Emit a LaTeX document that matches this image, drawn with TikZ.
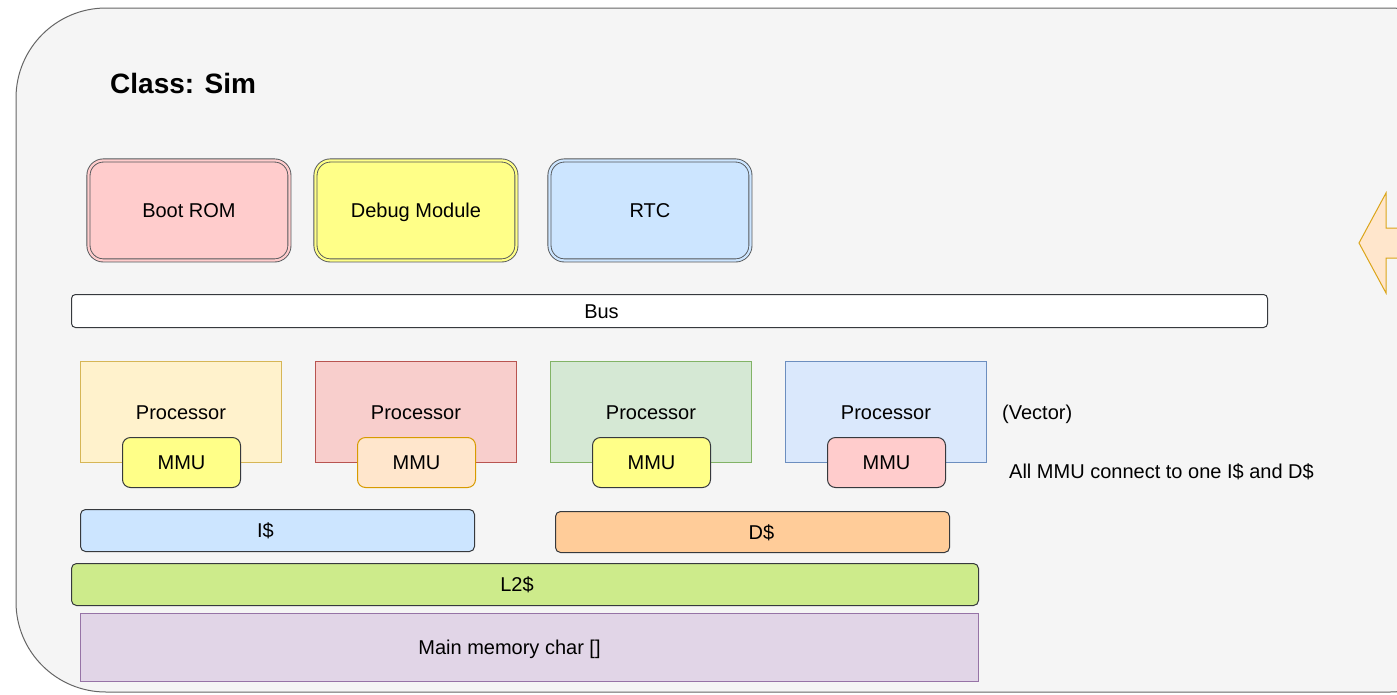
\documentclass[tikz,border=0pt]{standalone}
\usepackage{fontspec}
\setmainfont{Liberation Sans}
\definecolor{contfill}{HTML}{F5F5F5}
\definecolor{contdraw}{HTML}{666666}
\definecolor{dk}{HTML}{36393D}
\definecolor{pinkf}{HTML}{FFCCCC}
\definecolor{yelf}{HTML}{FFFF88}
\definecolor{bluef}{HTML}{CCE5FF}
\definecolor{p1f}{HTML}{FFF2CC}\definecolor{p1d}{HTML}{D6B656}
\definecolor{p2f}{HTML}{F8CECC}\definecolor{p2d}{HTML}{B85450}
\definecolor{p3f}{HTML}{D5E8D4}\definecolor{p3d}{HTML}{82B366}
\definecolor{p4f}{HTML}{DAE8FC}\definecolor{p4d}{HTML}{6C8EBF}
\definecolor{orf}{HTML}{FFE6CC}\definecolor{ord}{HTML}{D79B00}
\definecolor{dcf}{HTML}{FFCC99}
\definecolor{l2f}{HTML}{CDEB8B}
\definecolor{memf}{HTML}{E1D5E7}\definecolor{memd}{HTML}{9673A6}
\tikzset{
  base/.style={anchor=north west, inner sep=0pt, font=\fontsize{20}{24}\selectfont, text=black, text height=14pt, text depth=0pt},
  dblbox/.style={base, rounded corners=15pt, draw=dk!85, line width=0.9pt, double distance=2.2pt, minimum width=201pt, minimum height=100pt},
  procbox/.style={base, draw, line width=1pt, minimum width=201pt, minimum height=101pt},
  mmubox/.style={base, rounded corners=8pt, line width=1pt, minimum width=118pt, minimum height=50pt},
  barbox/.style={base, rounded corners=5pt, draw=dk, line width=1pt},
  plain/.style={inner sep=0pt, font=\fontsize{20}{24}\selectfont, text=black, text height=14pt, text depth=0pt},
}
\begin{document}
\begin{tikzpicture}[x=1pt,y=-1pt]
\useasboundingbox (0,0) rectangle (1397,694);
\clip (0,0) rectangle (1397,694);
\fill[white] (0,0) rectangle (1397,694);
% container
\draw[fill=contfill, draw=contdraw, line width=1pt, rounded corners=90pt] (16,8) rectangle (1480,692);
% title
\node[plain, anchor=west, font=\fontsize{28}{32}\selectfont\bfseries, text height=20pt, text depth=0pt] (title) at (110,83) {Class: Sim};
% top modules
\node[dblbox, fill=pinkf, double=pinkf] (boot) at (88,160) {Boot ROM};
\node[dblbox, fill=yelf, double=yelf] (debug) at (315,160) {Debug Module};
\node[dblbox, fill=bluef, double=bluef] (rtc) at (549,160) {RTC};
% bus
\node[barbox, rounded corners=4pt, fill=white, minimum width=1196pt, minimum height=33pt] (bus) at (71,294) {};
\node[plain] (bustxt) at ([xshift=-68pt]bus.center) {Bus};
% processors
\node[procbox, fill=p1f, draw=p1d] (p1) at (80,361) {Processor};
\node[procbox, fill=p2f, draw=p2d] (p2) at (315,361) {Processor};
\node[procbox, fill=p3f, draw=p3d] (p3) at (550,361) {Processor};
\node[procbox, fill=p4f, draw=p4d] (p4) at (785,361) {Processor};
% MMUs
\node[mmubox, fill=yelf, draw=dk] (m1) at (122,437) {MMU};
\node[mmubox, fill=orf, draw=ord] (m2) at (357,437) {MMU};
\node[mmubox, fill=yelf, draw=dk] (m3) at (592,437) {MMU};
\node[mmubox, fill=pinkf, draw=dk] (m4) at (827,437) {MMU};
% notes
\node[plain, anchor=west] (vec) at (1002,412) {(Vector)};
\node[plain, anchor=west] (note) at (1009,471) {All MMU connect to one I\$ and D\$};
% caches
\node[barbox, fill=bluef, minimum width=394pt, minimum height=42pt] (ic) at (80,509) {};
\node[plain] (ictxt) at ([xshift=-12pt]ic.center) {I\$};
\node[barbox, fill=dcf, draw=dk, minimum width=394pt, minimum height=41pt] (dc) at (555,511) {};
\node[plain] (dctxt) at ([xshift=9pt]dc.center) {D\$};
\node[barbox, fill=l2f, minimum width=907pt, minimum height=42pt] (l2) at (71,563) {};
\node[plain] (l2txt) at ([xshift=-8pt]l2.center) {L2\$};
\node[base, fill=memf, draw=memd, line width=1pt, minimum width=898pt, minimum height=68pt] (mem) at (80,613) {};
\node[plain] (memtxt) at ([xshift=-20pt]mem.center) {Main memory char []};
% arrow
\draw[fill=orf, draw=ord!90, line width=1pt, line join=miter]
  (1359,243) -- (1386,193) -- (1386,228) -- (1420,228) -- (1420,258) -- (1386,258) -- (1386,293) -- cycle;
\end{tikzpicture}
\end{document}
